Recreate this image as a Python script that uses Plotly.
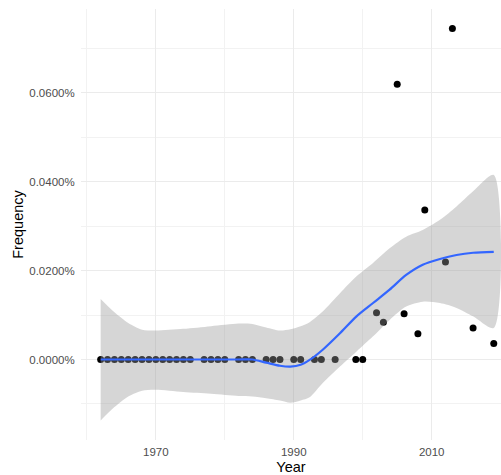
import plotly.graph_objects as go

# Observed yearly frequency (in percent)
years = [1962, 1963, 1964, 1965, 1966, 1967, 1968, 1969, 1970, 1971, 1972, 1973, 1974, 1975,
         1977, 1978, 1979, 1980, 1982, 1983, 1984, 1986, 1987, 1988,
         1990, 1991, 1993, 1994, 1996, 1999, 2000,
         2002, 2003, 2005, 2006, 2008, 2009, 2012, 2013, 2016, 2019]
freq = [0.0] * 31 + [0.0105, 0.0084, 0.0619, 0.0103, 0.0058, 0.0336, 0.0219, 0.0744, 0.0071, 0.0036]

# Smoothed trend with its confidence band (percent)
fit_years = [1962, 1964, 1966, 1968, 1970, 1974, 1978, 1982, 1984, 1986, 1988, 1989.5, 1991,
             1992.3, 1994.2, 1996.7, 1999.1, 2001.5, 2003.9, 2006.3, 2008.7, 2011.2, 2013.6, 2016, 2019]
fit = [0.0, 0.0, 0.0, 0.0, 0.0, 0.0, 0.0, 0.0, 0.0, -0.0007, -0.0014, -0.0016, -0.0012,
       -0.0001, 0.0022, 0.0059, 0.0097, 0.0127, 0.0157, 0.0190, 0.0213, 0.0226, 0.0235, 0.0240, 0.0242]
upper = [0.0136, 0.0106, 0.0082, 0.0067, 0.0065, 0.0069, 0.0075, 0.0081, 0.0080, 0.0072, 0.0065, 0.0068, 0.0075,
         0.0084, 0.0108, 0.0149, 0.0187, 0.0217, 0.0250, 0.0276, 0.0291, 0.0314, 0.0344, 0.0378, 0.0415]
lower = [-0.0137, -0.0107, -0.0083, -0.0070, -0.0068, -0.0073, -0.0077, -0.0082, -0.0083, -0.0087, -0.0092, -0.0097, -0.0092,
         -0.0085, -0.0053, -0.0016, 0.0018, 0.0052, 0.0089, 0.0119, 0.0130, 0.0127, 0.0116, 0.0097, 0.0071]

fig = go.Figure()

fig.add_trace(go.Scatter(
    x=years, y=freq, mode="markers",
    marker=dict(color="black", size=7, line=dict(width=0)),
    showlegend=False, hoverinfo="x+y",
))

fig.add_trace(go.Scatter(
    x=fit_years + fit_years[::-1],
    y=upper + lower[::-1],
    mode="lines", line=dict(width=0, shape="spline", smoothing=0.8),
    fill="toself", fillcolor="rgba(153,153,153,0.4)",
    showlegend=False, hoverinfo="skip",
))

fig.add_trace(go.Scatter(
    x=fit_years, y=fit, mode="lines",
    line=dict(color="#3366FF", width=2.2, shape="spline", smoothing=0.8),
    showlegend=False, hoverinfo="skip",
))

tick_font = dict(family="Liberation Sans, Arial, sans-serif", size=11.5, color="#4D4D4D")
title_font = dict(family="Liberation Sans, Arial, sans-serif", size=14.5, color="black")

fig.update_layout(
    width=501, height=475,
    margin=dict(l=81, r=0, t=9, b=35),
    paper_bgcolor="white", plot_bgcolor="white",
    xaxis=dict(
        range=[1959.15, 2020.05],
        tick0=1970, dtick=20,
        showgrid=True, gridcolor="#EBEBEB", gridwidth=1.3,
        minor=dict(dtick=10, tick0=1960, showgrid=True, gridcolor="#F2F2F2", gridwidth=0.8),
        zeroline=False, showline=False,
        ticks="outside", ticklen=1, tickcolor="rgba(0,0,0,0)",
        tickfont=tick_font,
        title=dict(text="Year", font=title_font, standoff=5),
    ),
    yaxis=dict(
        range=[-0.0181, 0.0788],
        tick0=0, dtick=0.02,
        tickformat=".4f", ticksuffix="%",
        showgrid=True, gridcolor="#EBEBEB", gridwidth=1.3,
        minor=dict(dtick=0.01, tick0=0, showgrid=True, gridcolor="#F2F2F2", gridwidth=0.8),
        zeroline=False, showline=False,
        ticks="outside", ticklen=3, tickcolor="rgba(0,0,0,0)",
        tickfont=tick_font,
        title=dict(text="Frequency", font=title_font, standoff=2),
    ),
)

fig.write_html("out.html")
